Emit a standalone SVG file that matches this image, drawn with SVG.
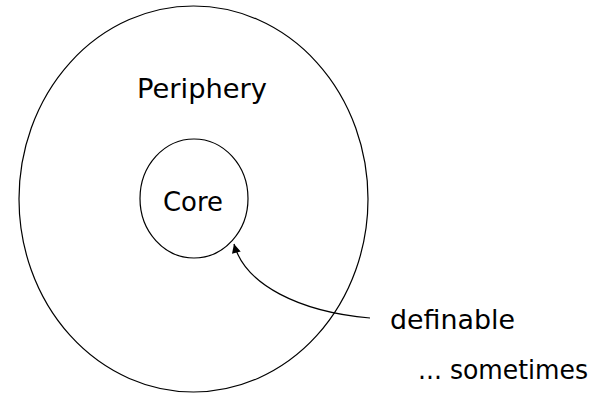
<svg xmlns="http://www.w3.org/2000/svg" width="603" height="393" viewBox="0 0 603 393">
<style>
.shape{fill:none;stroke:#000;stroke-width:1.2}
.lbl{font-family:"DejaVu Sans","Liberation Sans",sans-serif;font-size:27px;fill:#000}
</style>
<defs>
<marker id="ah" viewBox="0 0 10 10" refX="10" refY="5" markerWidth="10" markerHeight="9" markerUnits="userSpaceOnUse" orient="auto">
<path d="M0,0 L10,5 L0,10 z" fill="#000"/>
</marker>
</defs>
<rect width="603" height="393" fill="#fff"/>
<g id="periphery">
<ellipse class="shape" cx="193.5" cy="199" rx="174.5" ry="193"/>
<text class="lbl" x="202" y="98" text-anchor="middle" textLength="130" lengthAdjust="spacingAndGlyphs">Periphery</text>
</g>
<g id="core">
<ellipse class="shape" cx="194" cy="198.5" rx="54" ry="59.5"/>
<text class="lbl" x="193" y="211" text-anchor="middle" textLength="60" lengthAdjust="spacingAndGlyphs">Core</text>
</g>
<g id="definable">
<text class="lbl" x="390" y="329" textLength="125" lengthAdjust="spacingAndGlyphs">definable</text>
</g>
<g id="sometimes">
<text class="lbl" x="418" y="379" textLength="170" lengthAdjust="spacingAndGlyphs">... sometimes</text>
</g>
<g id="connectors">
<path class="shape" d="M370,318 C300,312 245,285 234,244" marker-end="url(#ah)"/>
</g>
</svg>
